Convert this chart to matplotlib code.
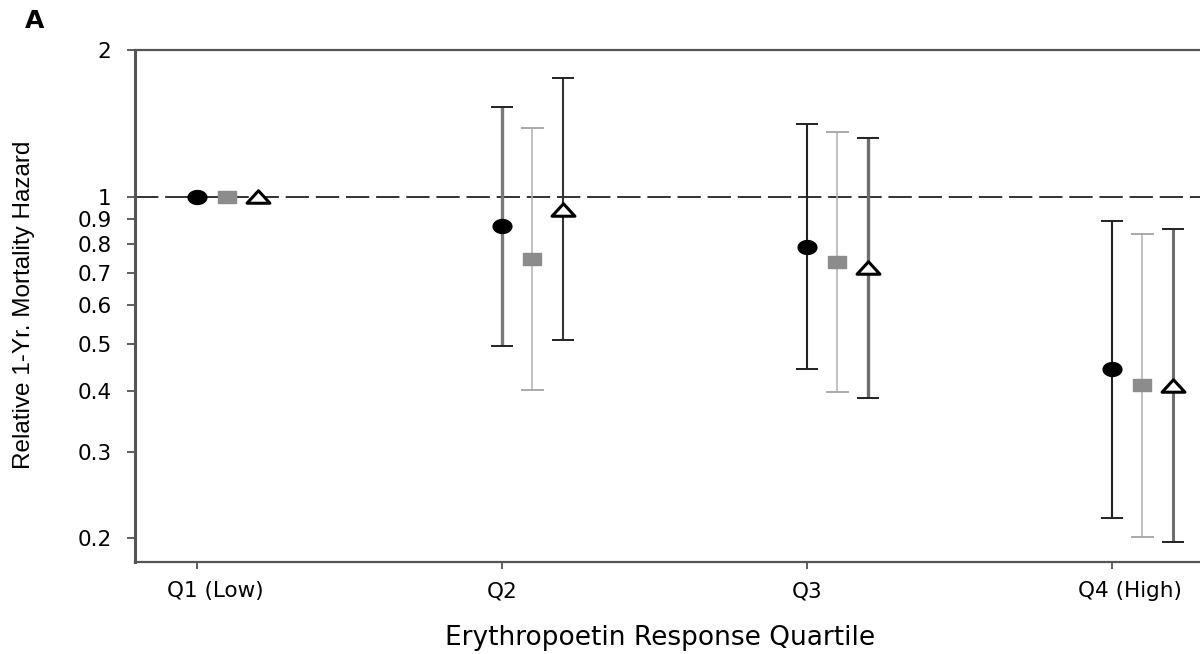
import matplotlib
matplotlib.use("Agg")
import matplotlib.pyplot as plt
import matplotlib.transforms as mtransforms
from matplotlib.path import Path
import numpy as np

quartiles = ["Q1 (Low)", "Q2", "Q3", "Q4 (High)"]
# series: circle, square, triangle
circle_est = [1.0, 0.873, 0.791, 0.444]
circle_lo = [1.0, 0.495, 0.443, 0.220]
circle_hi = [1.0, 1.527, 1.409, 0.894]
square_est = [1.0, 0.745, 0.737, 0.411]
square_lo = [1.0, 0.402, 0.399, 0.201]
square_hi = [1.0, 1.383, 1.357, 0.839]
tri_est = [1.0, 0.940, 0.715, 0.409]
tri_lo = [1.0, 0.509, 0.387, 0.196]
tri_hi = [1.0, 1.753, 1.323, 0.860]
yticks = [0.2, 0.3, 0.4, 0.5, 0.6, 0.7, 0.8, 0.9, 1, 2]
ytick_labels = ["0.2", "0.3", "0.4", "0.5", "0.6", "0.7", "0.8", "0.9", "1", "2"]

plt.rcParams['font.family'] = ['DejaVu Sans']

# horizontally stretched marker shapes (the reference is stretched)
t = np.linspace(0, 2 * np.pi, 41)
ellipse = Path(np.column_stack([1.35 * np.cos(t), np.sin(t)]), closed=True)
rect = Path([(-1.55, -1), (1.55, -1), (1.55, 1), (-1.55, 1), (-1.55, -1)], closed=True)
tri = Path([(-1.7, -0.85), (1.7, -0.85), (0, 1.0), (-1.7, -0.85)], closed=True)

W, H = 1200, 654
fig = plt.figure(figsize=(12, 6.54), dpi=100)
ax = fig.add_axes([135 / W, 1 - 562 / H, (1200 - 135) / W, (562 - 50) / H])
ax.set_yscale('log')
ax.set_ylim(0.1786, 2.0)
ax.set_xlim(-0.203, 3.289)

x = np.arange(len(quartiles))
# per-point error-bar line colours (Q1..Q4)
circle_lc = ['#222222', '#7a7a7a', '#222222', '#222222']
square_lc = ['#aaaaaa', '#b5b5b5', '#b5b5b5', '#b5b5b5']
tri_lc = ['#222222', '#333333', '#6e6e6e', '#6e6e6e']
circle_lw = [1.5, 2.4, 1.5, 1.5]
square_lw = [1.2, 1.2, 1.2, 1.2]
tri_lw = [1.5, 1.5, 2.4, 2.2]

ax.axhline(1.0, color='#333333', lw=1.4, dashes=(12, 3.5), zorder=1)

def draw(series_x, est, lo, hi, lcs, lws, capc, **mk):
    for i in range(len(series_x)):
        if i > 0:
            ax.errorbar([series_x[i]], [est[i]],
                        yerr=[[est[i] - lo[i]], [hi[i] - est[i]]],
                        fmt='none', ecolor=lcs[i], elinewidth=lws[i],
                        capsize=0, zorder=2)
            for yv in (lo[i], hi[i]):
                ax.plot([series_x[i] - 0.037, series_x[i] + 0.037], [yv, yv],
                        color=capc[i], lw=1.4, solid_capstyle='butt', zorder=2)
    ax.plot(series_x, est, linestyle='none', zorder=3, **mk)

draw(x, circle_est, circle_lo, circle_hi, circle_lc, circle_lw,
     ['#222222'] * 4,
     marker=ellipse, markersize=13.5, color='black', markeredgecolor='black')
draw(x + 0.1, square_est, square_lo, square_hi, square_lc, square_lw,
     ['#aaaaaa'] * 4,
     marker=rect, markersize=13, color='#8c8c8c', markeredgecolor='#8c8c8c')
draw(x + 0.2, tri_est, tri_lo, tri_hi, tri_lc, tri_lw,
     ['#222222'] * 4,
     marker=tri, markersize=16.5, markerfacecolor='white',
     markeredgecolor='black', markeredgewidth=2.2, color='black')

ax.set_yticks(yticks)
ax.set_yticklabels(ytick_labels)
ax.yaxis.set_minor_locator(matplotlib.ticker.NullLocator())
ax.set_xticks(x)
ax.set_xticklabels(quartiles)
ax.tick_params(axis='y', labelsize=15.5, length=6, width=1.2, color='#444444', pad=11)
ax.tick_params(axis='x', labelsize=15.5, length=5, width=1.2, color='#444444', pad=9)

# the end labels sit a little right of their ticks in the reference
labels = ax.get_xticklabels()
for idx in (0, 3):
    off = mtransforms.ScaledTranslation(18 / 100, 0, fig.dpi_scale_trans)
    labels[idx].set_transform(labels[idx].get_transform() + off)

for s in ['left', 'top', 'bottom']:
    ax.spines[s].set_color('#555555')
ax.spines['left'].set_linewidth(2.2)
ax.spines['top'].set_linewidth(1.6)
ax.spines['bottom'].set_linewidth(1.6)
ax.spines['right'].set_visible(False)

ax.set_ylabel('Relative 1-Yr. Mortality Hazard',
              family=['Liberation Sans', 'DejaVu Sans'],
              fontsize=17.5)
ax.yaxis.set_label_coords(-(135 - 35) / (1200 - 135), (562 - 305) / (562 - 50))
fig.text(660 / W, 1 - 638 / H, 'Erythropoetin Response Quartile',
         ha='center', va='center', fontsize=19)
fig.text(25 / W, 1 - 21 / H, 'A', ha='left', va='center', fontsize=18,
         fontweight='bold')

fig.savefig('out.png', dpi=100, facecolor='white')
